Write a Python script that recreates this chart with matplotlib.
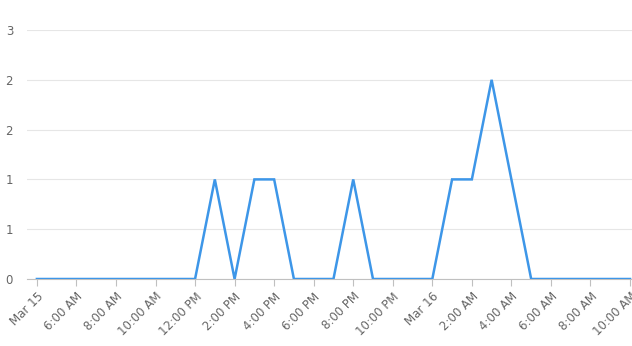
import matplotlib
matplotlib.use('Agg')
import matplotlib.pyplot as plt
import pandas as pd

# Hourly counts, Mar 15 04:00 to Mar 16 10:00
times = pd.date_range('2024-03-15 04:00', '2024-03-16 10:00', freq='h')
counts = [0, 0, 0, 0, 0, 0, 0, 0, 0,   # 4 AM .. 12 PM
          1, 0, 1, 1, 0, 0, 0, 1,      # 1 PM .. 8 PM
          0, 0, 0, 0,                  # 9 PM .. 12 AM
          1, 1, 2, 1, 0,               # 1 AM .. 5 AM
          0, 0, 0, 0, 0]               # 6 AM .. 10 AM

tick_times = pd.date_range('2024-03-15 04:00', '2024-03-16 10:00', freq='2h')
tick_labels = ['Mar 15', '6:00 AM', '8:00 AM', '10:00 AM', '12:00 PM', '2:00 PM',
               '4:00 PM', '6:00 PM', '8:00 PM', '10:00 PM', 'Mar 16', '2:00 AM',
               '4:00 AM', '6:00 AM', '8:00 AM', '10:00 AM']
y_ticks = [0, 0.5, 1, 1.5, 2, 2.5]
y_labels = ['0', '1', '1', '2', '2', '3']

fig = plt.figure(figsize=(6.32, 3.46), dpi=100)
ax = fig.add_axes([27 / 632, 1 - 279 / 346, 605 / 632, 249 / 346])

ax.plot(times, counts, color='#3d96e8', linewidth=1.8, solid_joinstyle='miter', zorder=3)

ax.set_xlim(times[0] - pd.Timedelta(minutes=30), times[-1] + pd.Timedelta(minutes=6))
ax.set_ylim(0, 2.5)

ax.set_yticks(y_ticks)
ax.set_yticklabels(y_labels)
ax.set_xticks(tick_times)
ax.set_xticklabels(tick_labels, rotation=45, ha='right', rotation_mode='anchor')

ax.grid(axis='y', color='#e6e6e6', linewidth=0.8)
ax.set_axisbelow(True)
for side in ['top', 'right', 'left']:
    ax.spines[side].set_visible(False)
ax.spines['bottom'].set_color('#c0c0c0')
ax.spines['bottom'].set_linewidth(0.8)

ax.tick_params(axis='y', length=0, pad=10, labelsize=8.5, labelcolor='#666666')
ax.tick_params(axis='x', length=5, width=0.8, color='#c0c0c0', pad=3,
               labelsize=8.5, labelcolor='#666666')

fig.savefig('out.png', dpi=100)
